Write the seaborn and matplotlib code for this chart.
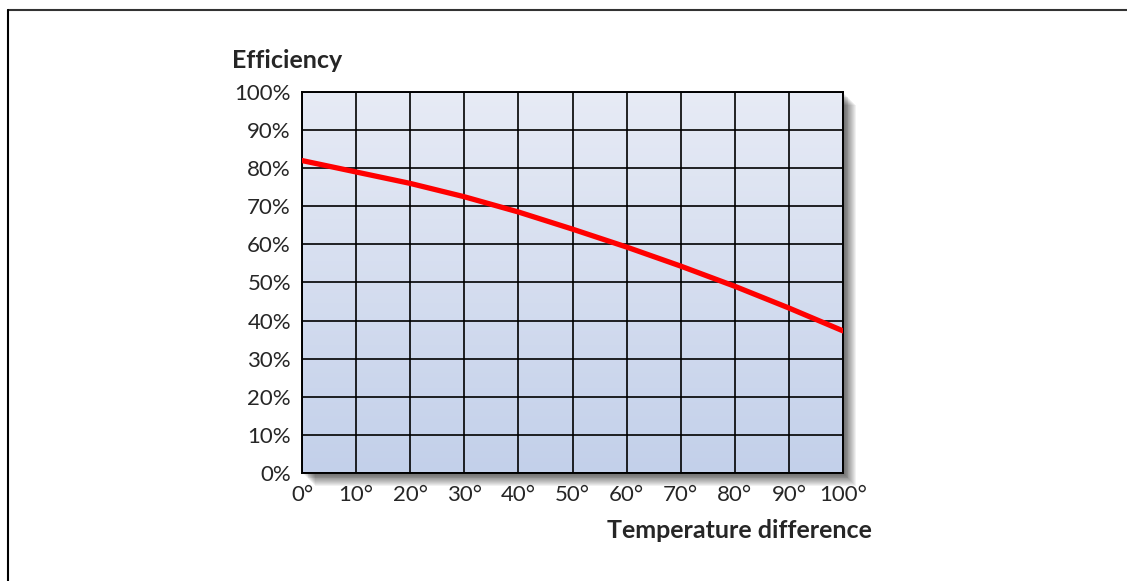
import numpy as np
import pandas as pd
import matplotlib.pyplot as plt
import matplotlib.patches as mpatches
import matplotlib.lines as mlines
from matplotlib.colors import LinearSegmentedColormap
import seaborn as sns

# values
temp_diff = [0, 10, 20, 30, 40, 50, 60, 70, 80, 90, 100]
efficiency = [82, 79, 76, 72.5, 68.5, 64, 59.3, 54.3, 49, 43.3, 37.3]
x_ticks = [0, 10, 20, 30, 40, 50, 60, 70, 80, 90, 100]
y_ticks = [0, 10, 20, 30, 40, 50, 60, 70, 80, 90, 100]

sns.set_style("white")
plt.rcParams['font.family'] = ['Lato', 'DejaVu Sans']

fig = plt.figure(figsize=(11.27, 5.81), dpi=100)
ax = fig.add_axes([0.268, 0.1859, 0.480, 0.6558])

# page border (top and left only)
fig.add_artist(mlines.Line2D([8 / 1127, 1], [1 - 10 / 581, 1 - 10 / 581], color='#333333', lw=1.5, transform=fig.transFigure))
fig.add_artist(mlines.Line2D([8 / 1127, 8 / 1127], [0, 1 - 10 / 581], color='black', lw=1.5, transform=fig.transFigure))

# soft drop shadow behind the plot area
x0, y0, w, h = 0.268, 0.1859, 0.480, 0.6558
for i in range(14):
    off = 1 + i * 0.9
    fig.add_artist(mpatches.Rectangle((x0 + off / 1127, y0 - off / 581), w, h, transform=fig.transFigure,
                                      facecolor='black', edgecolor='none', alpha=0.055, zorder=0))

# gradient background
grad = np.linspace(0, 1, 256).reshape(-1, 1)
cmap = LinearSegmentedColormap.from_list('bg', ['#c3d0ea', '#e7ebf5'])
ax.imshow(grad, extent=[0, 100, 0, 100], origin='lower', aspect='auto', cmap=cmap, zorder=0)

df = pd.DataFrame({'temp': temp_diff, 'eff': efficiency})
sns.lineplot(data=df, x='temp', y='eff', color='#ff0000', linewidth=3.8, ax=ax, zorder=3)

ax.set_xlim(0, 100)
ax.set_ylim(0, 100)
ax.set_xticks(x_ticks)
ax.set_yticks(y_ticks)
ax.set_xticklabels([f"{t}°" for t in x_ticks])
ax.set_yticklabels([f"{t}%" for t in y_ticks])
ax.grid(True, color='black', linewidth=1.2, zorder=1)
ax.set_axisbelow(False)
for s in ax.spines.values():
    s.set_color('black')
    s.set_linewidth(1.4)
ax.tick_params(axis='both', length=6, width=1.2, color='black', labelsize=16, pad=2, direction='out')
ax.tick_params(axis='x', pad=3)
ax.set_xlabel('')
ax.set_ylabel('')

fig.text(232 / 1127, 1 - 60 / 581, 'Efficiency', fontsize=18, fontweight='bold', ha='left', va='center')
fig.text(872 / 1127, 1 - 531 / 581, 'Temperature difference', fontsize=18, fontweight='bold', ha='right', va='center')

fig.savefig('out.png', dpi=100, facecolor='white')
